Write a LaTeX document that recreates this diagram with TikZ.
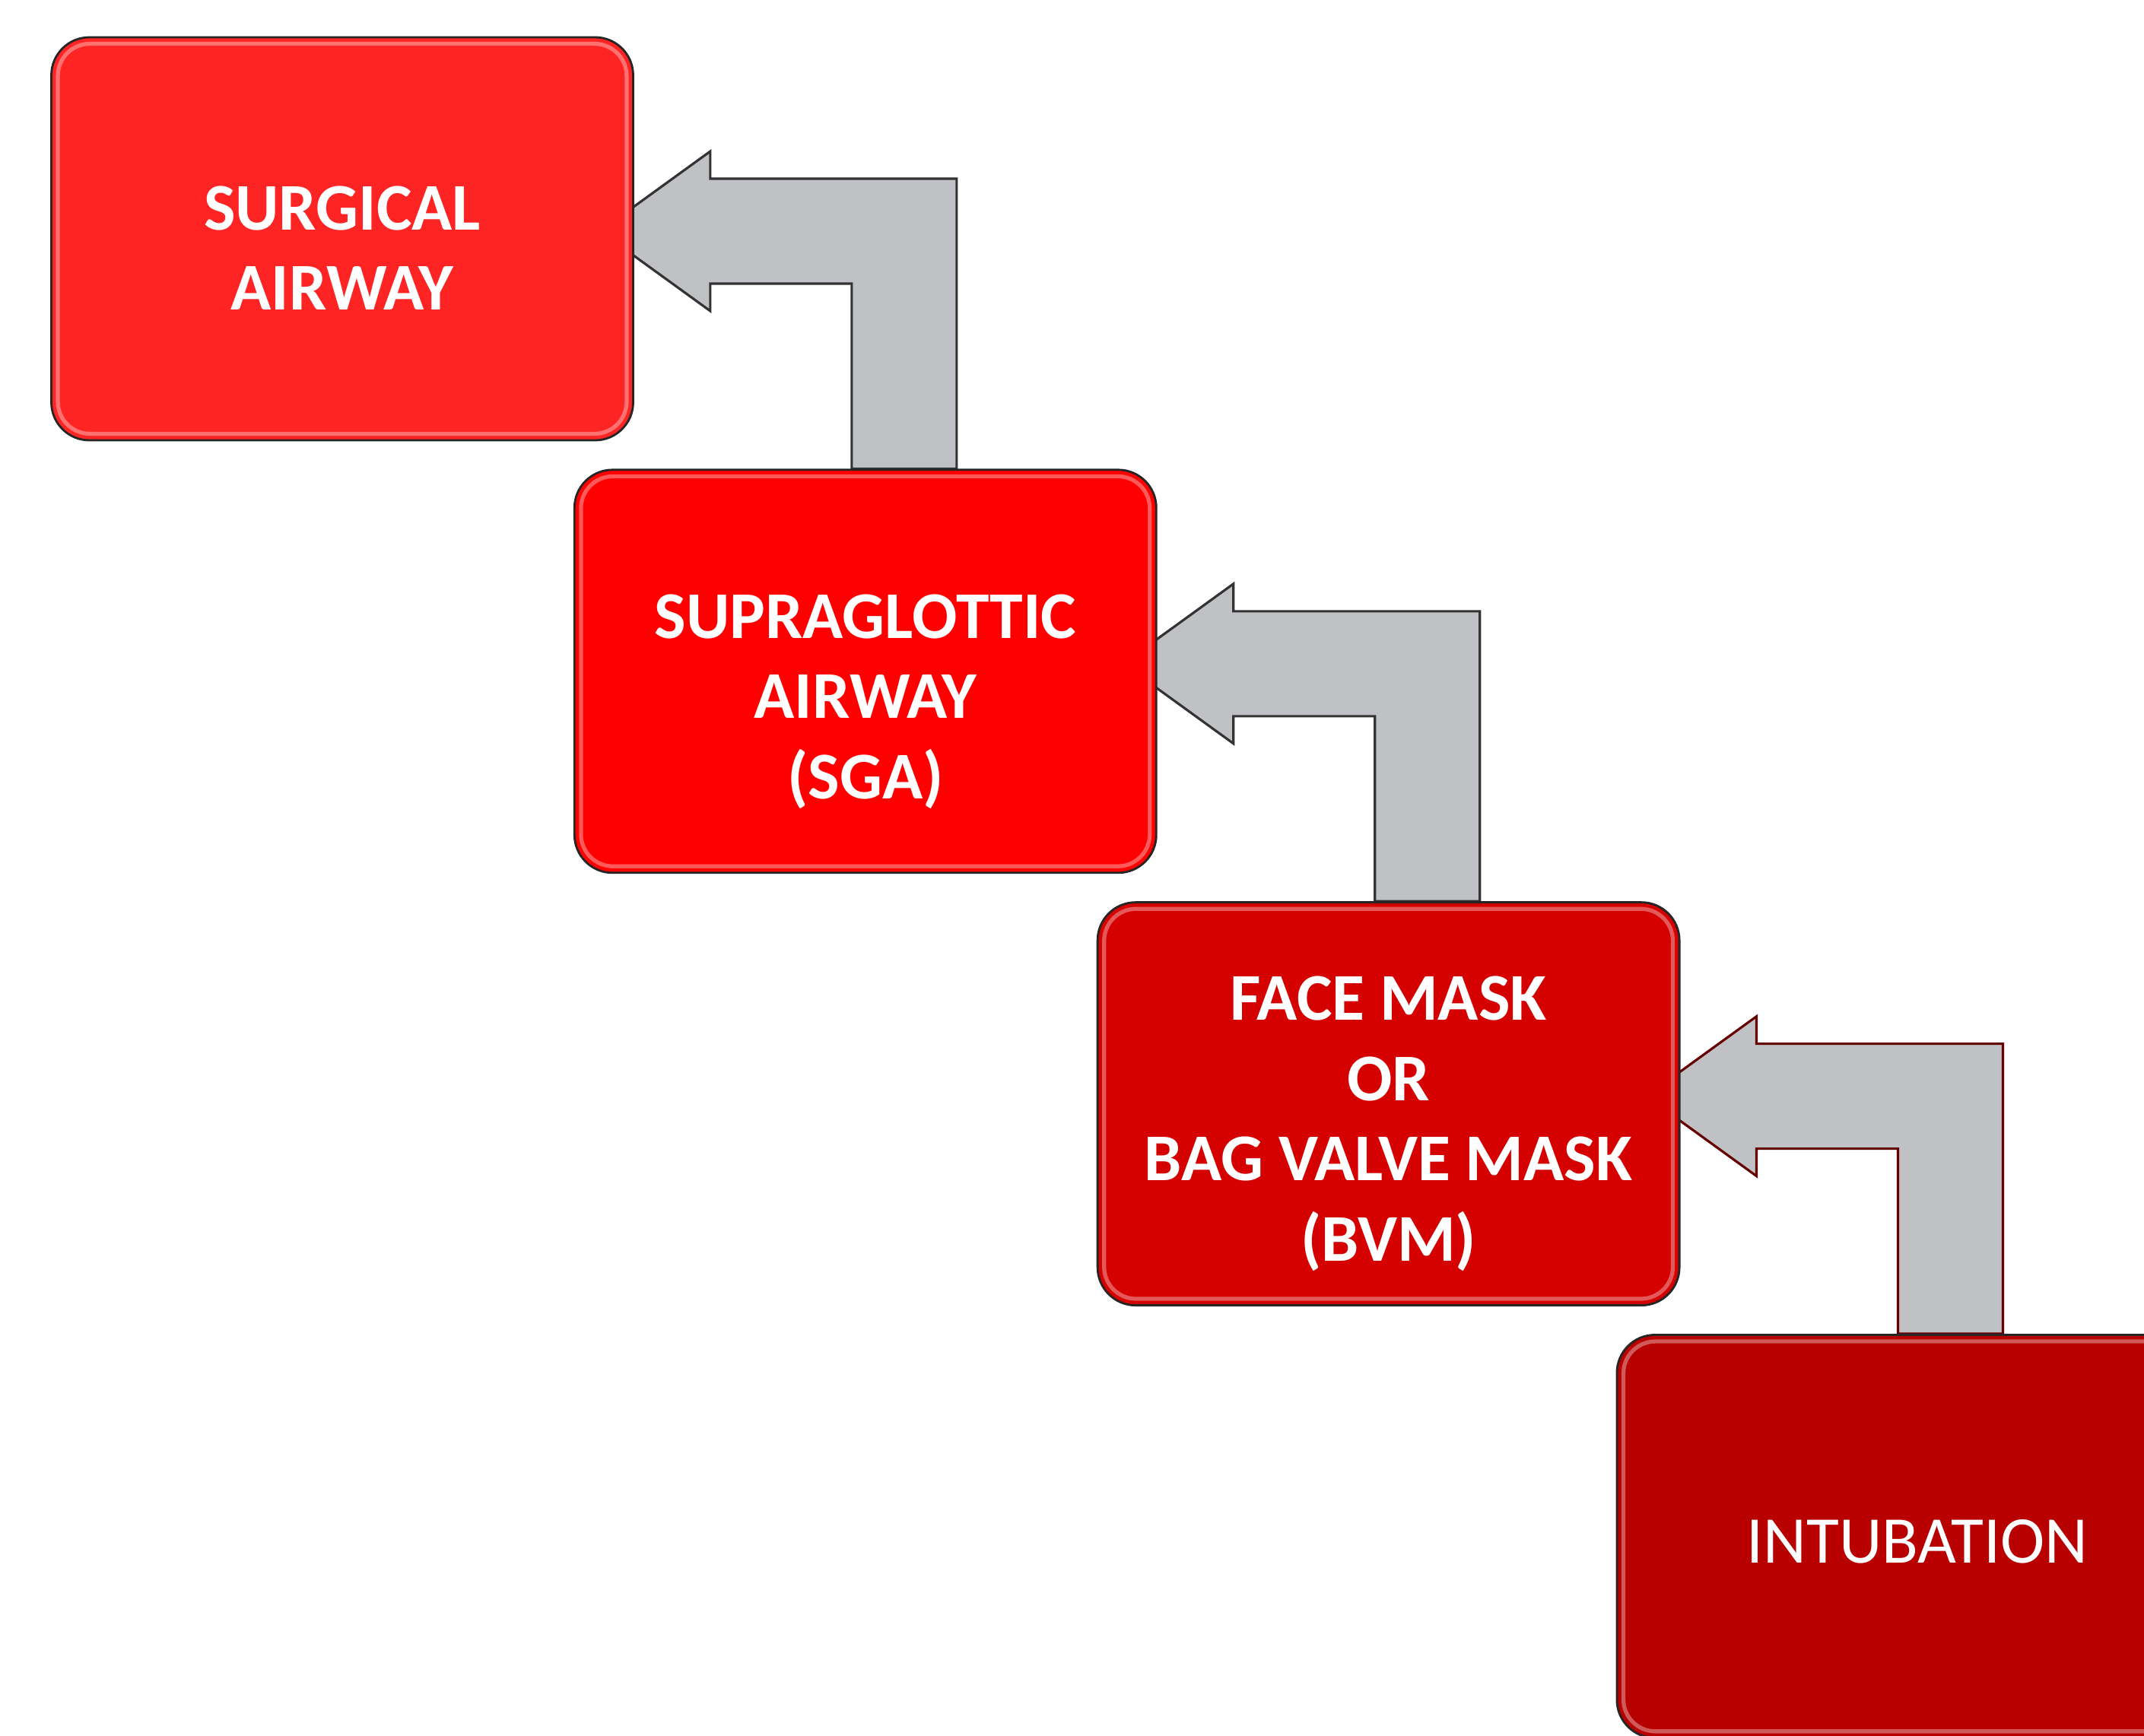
\documentclass[tikz,border=0pt]{standalone}
\usepackage{fontspec}
\setmainfont{Carlito}
\usetikzlibrary{positioning, backgrounds, calc}
\definecolor{redA}{HTML}{FF2424}
\definecolor{redB}{HTML}{FF0000}
\definecolor{redC}{HTML}{D50000}
\definecolor{redD}{HTML}{B80000}
\definecolor{arrgray}{HTML}{BFC1C4}
\tikzset{
  box/.style   = {rectangle, draw=black!85, line width=0.8pt, rounded corners=0.5cm,
                  minimum width=7.65cm, minimum height=5.3cm, align=center,
                  text=white, font=\fontsize{25}{30}\selectfont\bfseries},
  gloss/.style = {draw=white, opacity=0.35, line width=1.5pt, rounded corners=0.42cm},
  bent/.style  = {fill=arrgray, draw=black!80, line width=0.9pt, line join=miter},
}

\begin{document}
\begin{tikzpicture}
  \useasboundingbox (0,0) rectangle (28.19,-22.82);
  \clip (0,0) rectangle (28.19,-22.82);
  \node[box, fill=redA] (surg) at (4.50,-3.14) {\rule{0pt}{0.82cm}SURGICAL\\AIRWAY};
  \node[box, fill=redB, below right=0.36cm and -0.8cm of surg] (sga)
        {\rule{0pt}{1.37cm}SUPRAGLOTTIC\\AIRWAY\\(SGA)};
  \node[box, fill=redC, below right=0.36cm and -0.8cm of sga] (bvm)
        {\rule{0pt}{1.1cm}FACE MASK\\OR\\BAG VALVE MASK\\(BVM)};
  \node[box, fill=redD, font=\fontsize{25}{30}\selectfont,
        below right=0.36cm and -0.85cm of bvm] (intub) {\rule{0pt}{0.7cm}\hspace{0.25cm}INTUBATION};
  % glossy inner rim
  \foreach \n in {surg,sga,bvm,intub}
    \draw[gloss] ([shift={(0.1,-0.1)}]\n.north west) rectangle ([shift={(-0.1,0.1)}]\n.south east);
  % bent arrows, behind the boxes
  \begin{scope}[on background layer]
    \foreach \up/\lo/\edge in {surg/sga/black!80, sga/bvm/black!80, bvm/intub/red!40!black}
      \draw[bent, draw=\edge] ([shift={(-0.45,0.1)}]\up.east) -- ++(1.45,1.05) -- ++(0,-0.36)
        -- ++(3.24,0) -- ([xshift=4.24cm]\up.east |- \lo.north) -- ++(-1.38,0)
        -- ([shift={(2.86,-0.59)}]\up.east) -- ++(-1.86,0) -- ++(0,-0.36) -- cycle;
  \end{scope}
\end{tikzpicture}
\end{document}
